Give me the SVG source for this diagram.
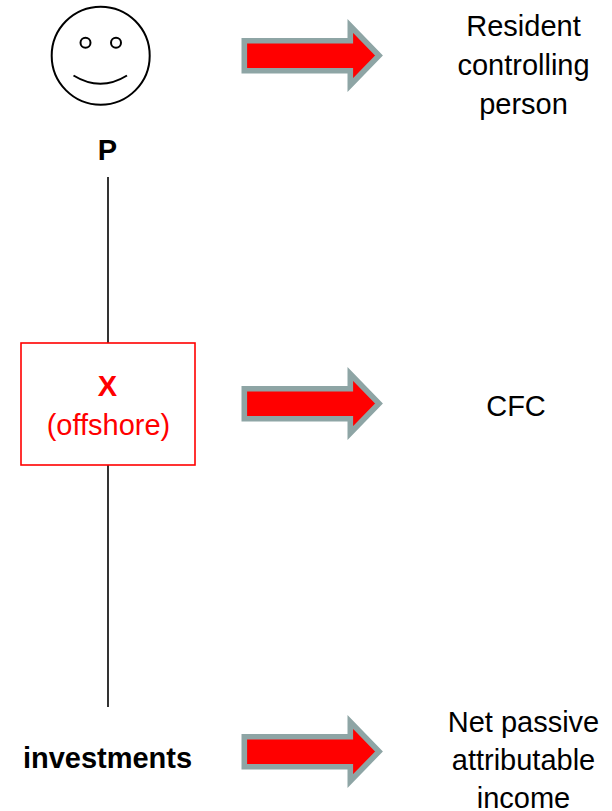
<svg xmlns="http://www.w3.org/2000/svg" width="612" height="811" viewBox="0 0 612 811">
<style>
text{font-family:"Liberation Sans",Arial,sans-serif;font-size:29px;fill:#000;text-anchor:middle}
.b{font-weight:bold}
.r{fill:#f00}
.face{fill:none;stroke:#000;stroke-width:2}
.line{stroke:#000;stroke-width:1.6;fill:none}
</style>
<defs>
<polygon id="arrow" points="244.3,40.8 350.3,40.8 350.3,26 379,55.5 350.3,85 350.3,70.7 244.3,70.7" fill="#f00" stroke="#8ea5a5" stroke-width="5.6" stroke-miterlimit="10"/>
</defs>
<g id="connectors">
<line class="line" x1="108" y1="177" x2="108" y2="343"/>
<line class="line" x1="108" y1="465" x2="108" y2="707"/>
</g>
<g id="person-p">
<circle class="face" cx="100.7" cy="55.7" r="49"/>
<circle class="face" cx="85.5" cy="42.7" r="5"/>
<circle class="face" cx="116" cy="42.7" r="5"/>
<path class="face" d="M73.5 75.5Q100.5 92 127 75.5"/>
<text class="b" x="107.500" y="160">P</text>
</g>
<g id="node-x">
<rect x="21" y="343" width="174" height="122" fill="#fff" stroke="#f00" stroke-width="1.6"/>
<text class="b r" x="107.500" y="396">X</text>
<text class="r" x="108.500" y="435">(offshore)</text>
</g>
<g id="node-investments">
<text class="b" x="107.500" y="768">investments</text>
</g>
<g id="arrow-1"><use href="#arrow"/></g>
<g id="arrow-2"><use href="#arrow" y="348"/></g>
<g id="arrow-3"><use href="#arrow" y="696"/></g>
<g id="label-resident">
<text x="523.500" y="36">Resident</text>
<text x="523.500" y="75">controlling</text>
<text x="523.500" y="114">person</text>
</g>
<g id="label-cfc"><text x="516" y="416">CFC</text></g>
<g id="label-income">
<text x="523.500" y="732">Net passive</text>
<text x="523.500" y="770">attributable</text>
<text x="523.500" y="808">income</text>
</g>
</svg>
